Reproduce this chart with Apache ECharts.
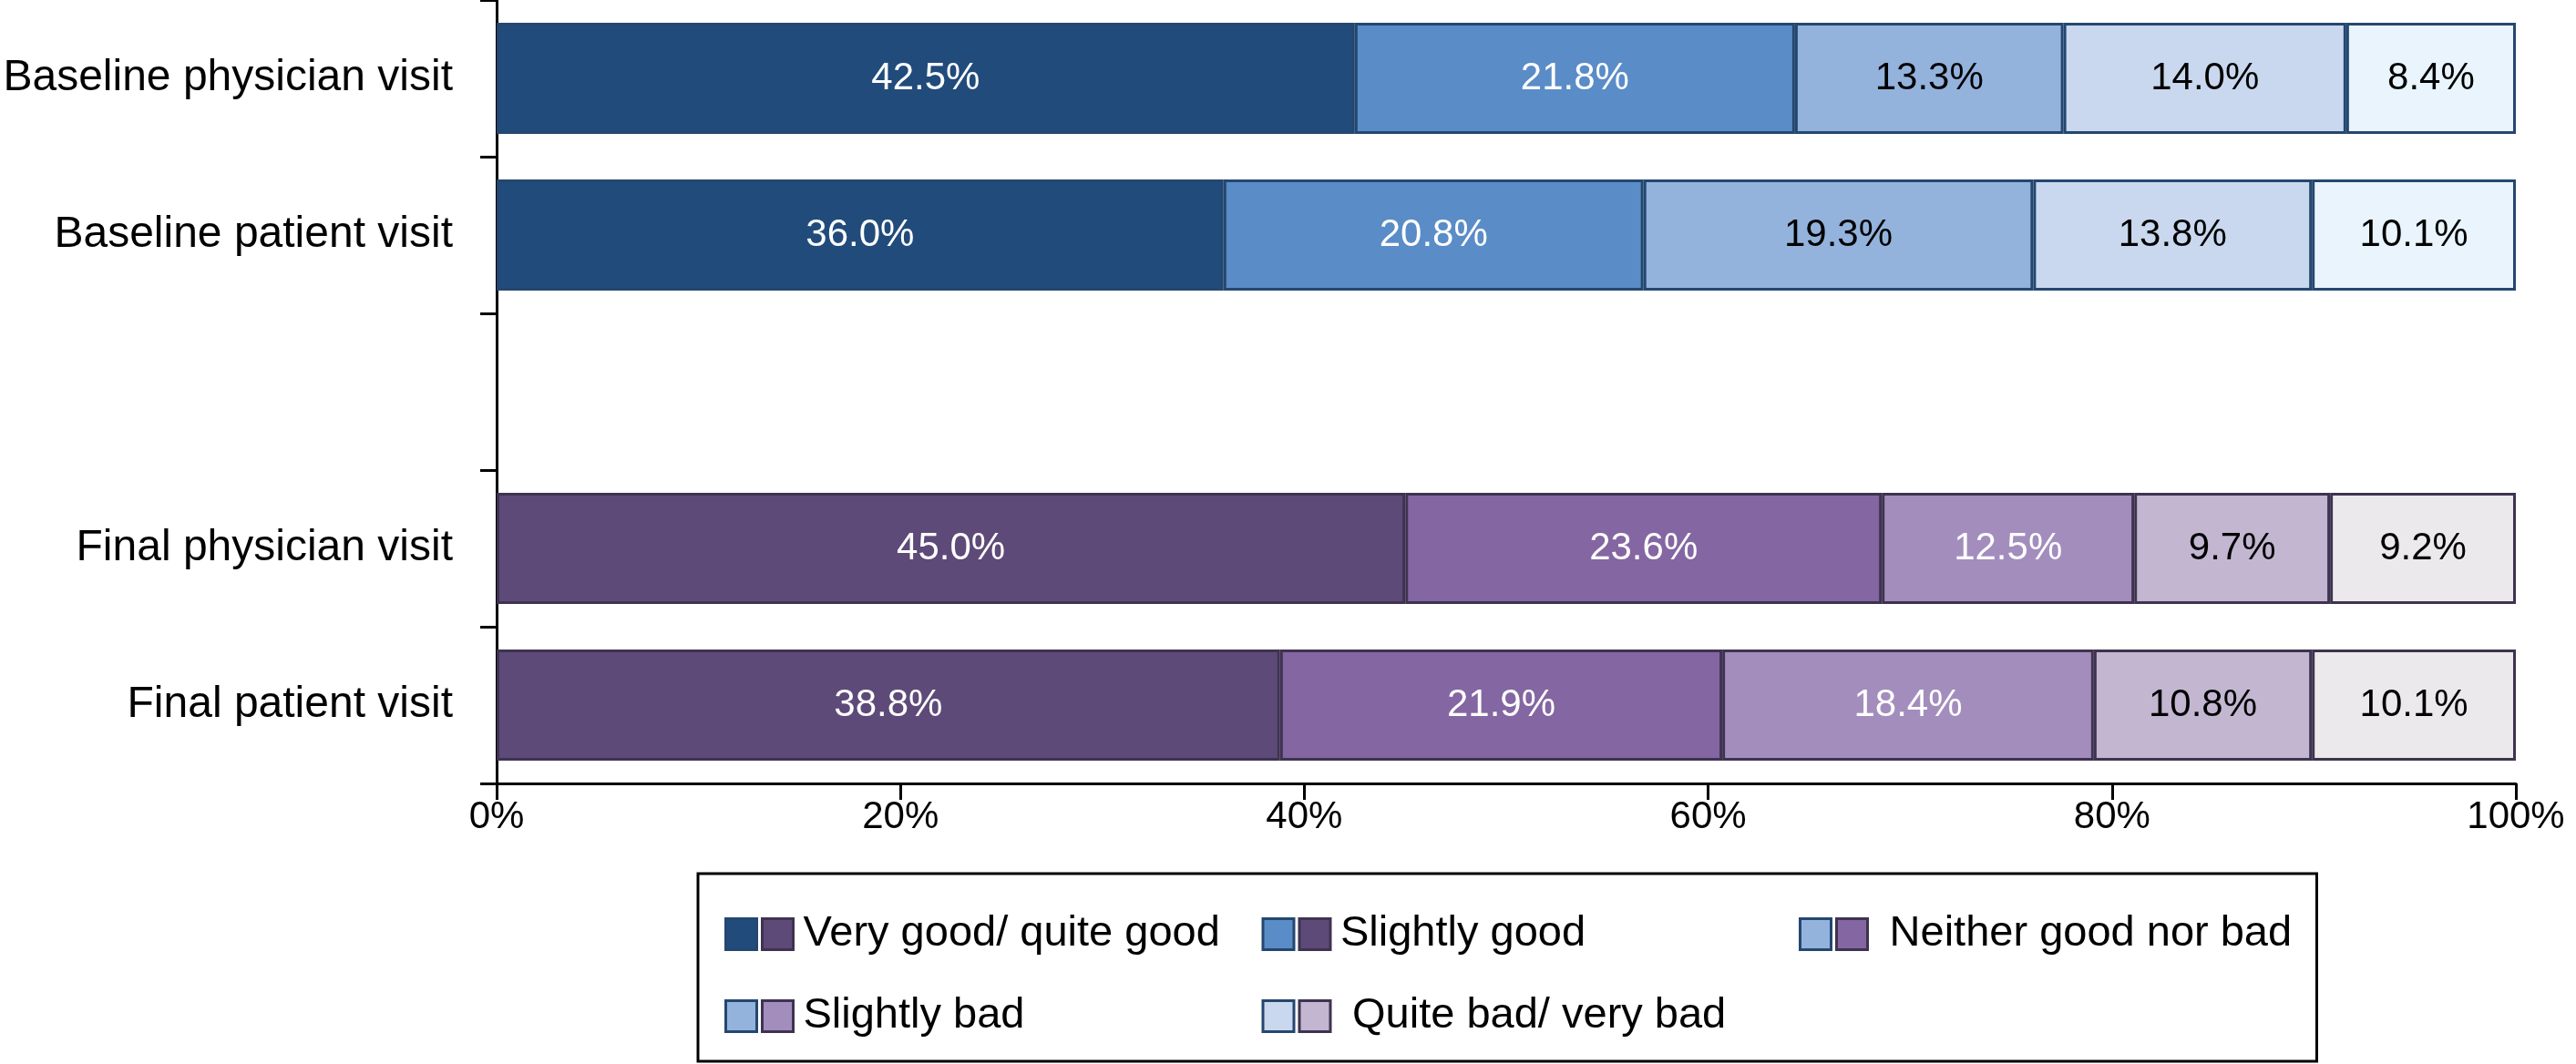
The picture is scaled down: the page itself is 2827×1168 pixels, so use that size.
<!DOCTYPE html>
<html>
<head>
<meta charset="utf-8">
<script src="https://cdn.jsdelivr.net/npm/echarts@6/dist/echarts.min.js"></script>
<style>
html,body{margin:0;padding:0;background:#fff;}
#chart{width:2827px;height:1168px;}
</style>
</head>
<body>
<div id="chart"></div>
<script>
// ---- data ----
const categories = ['Baseline physician visit', 'Baseline patient visit', '', 'Final physician visit', 'Final patient visit'];
const responses = ['Very good/ quite good', 'Slightly good', 'Neither good nor bad', 'Slightly bad', 'Quite bad/ very bad'];
const legendLabels = ['Very good/ quite good', 'Slightly good', ' Neither good nor bad', 'Slightly bad', ' Quite bad/ very bad'];
const veryGood   = [42.5, 36.0, null, 45.0, 38.8];
const slightGood = [21.8, 20.8, null, 23.6, 21.9];
const neither    = [13.3, 19.3, null, 12.5, 18.4];
const slightBad  = [14.0, 13.8, null, 9.7, 10.8];
const quiteBad   = [8.4, 10.1, null, 9.2, 10.1];
const xTicks = [0, 20, 40, 60, 80, 100];

// ---- styles ----
const baseColors  = ['#214b7b', '#5a8cc7', '#93b3dd', '#c9d8ee', '#e9f4fc'];
const finalColors = ['#5e4a78', '#8466a2', '#a38dbd', '#c2b6d1', '#ece9ec'];
const legendBlue   = [baseColors[0], baseColors[1], baseColors[2], baseColors[2], baseColors[3]];
const legendPurple = [finalColors[0], finalColors[0], finalColors[1], finalColors[2], finalColors[3]];
const baseBorder = '#24476f';
const finalBorder = '#3e3350';
const baseLabel  = ['#fff', '#fff', '#000', '#000', '#000'];
const finalLabel = ['#fff', '#fff', '#fff', '#000', '#000'];
const FONT = '"Liberation Sans", Arial, Helvetica, sans-serif';

const seriesValues = [veryGood, slightGood, neither, slightBad, quiteBad];

const series = seriesValues.map((vals, si) => ({
  name: responses[si],
  type: 'bar',
  stack: 'total',
  barCategoryGap: '29%',
  itemStyle: { color: baseColors[si], borderColor: baseBorder, borderWidth: 3 },
  label: {
    show: true, position: 'inside', fontFamily: FONT, fontSize: 42,
    formatter: p => p.value == null ? '' : p.value.toFixed(1) + '%'
  },
  data: vals.map((v, ci) => {
    const isFinal = ci >= 3;
    return {
      value: v,
      itemStyle: {
        color: isFinal ? finalColors[si] : baseColors[si],
        borderColor: isFinal ? finalBorder : baseBorder,
        borderWidth: 3
      },
      label: { color: isFinal ? finalLabel[si] : baseLabel[si] }
    };
  })
}));

const legendCommon = {
  orient: 'horizontal',
  width: 1760,
  itemWidth: 34,
  itemHeight: 34,
  itemGap: 43,
  selectedMode: false,
  icon: 'rect',
  formatter: name => legendLabels[responses.indexOf(name)],
  textStyle: { fontFamily: FONT, fontSize: 47, width: 500, lineHeight: 47, overflow: 'none', padding: [0, 0, 0, 6] }
};

const option = {
  backgroundColor: '#fff',
  animation: false,
  grid: { left: 545, right: 66, top: 0, bottom: 308, containLabel: false },
  xAxis: {
    type: 'value', min: 0, max: 100, interval: 20,
    axisLine: { show: true, lineStyle: { color: '#000', width: 3 } },
    axisTick: { show: true, length: 18, lineStyle: { color: '#000', width: 3 } },
    splitLine: { show: false },
    axisLabel: { formatter: v => xTicks.includes(v) ? v + '%' : '', fontFamily: FONT, fontSize: 42, color: '#000', margin: 16 }
  },
  yAxis: {
    type: 'category', inverse: true, data: categories,
    axisLine: { show: true, lineStyle: { color: '#000', width: 3 } },
    axisTick: { show: true, length: 18, lineStyle: { color: '#000', width: 3 } },
    axisLabel: { fontFamily: FONT, fontSize: 48, color: '#000', margin: 48 }
  },
  legend: [
    Object.assign({}, legendCommon, {
      left: 766, top: 959,
      padding: [43, 22, 26, 29],
      borderColor: '#000', borderWidth: 3,
      data: responses.map((n, i) => ({ name: n, itemStyle: { color: legendBlue[i], borderColor: baseBorder, borderWidth: 3 } })),
      textStyle: Object.assign({}, legendCommon.textStyle, { color: 'rgba(0,0,0,0)' })
    }),
    Object.assign({}, legendCommon, {
      left: 806, top: 959,
      padding: [43, 22, 26, 29],
      data: responses.map((n, i) => ({ name: n, itemStyle: { color: legendPurple[i], borderColor: finalBorder, borderWidth: 3 } })),
      textStyle: Object.assign({}, legendCommon.textStyle, { color: '#000' })
    })
  ],
  series: series
};

const chart = echarts.init(document.getElementById('chart'), null, { renderer: 'canvas' });
chart.setOption(option);
</script>
</body>
</html>
